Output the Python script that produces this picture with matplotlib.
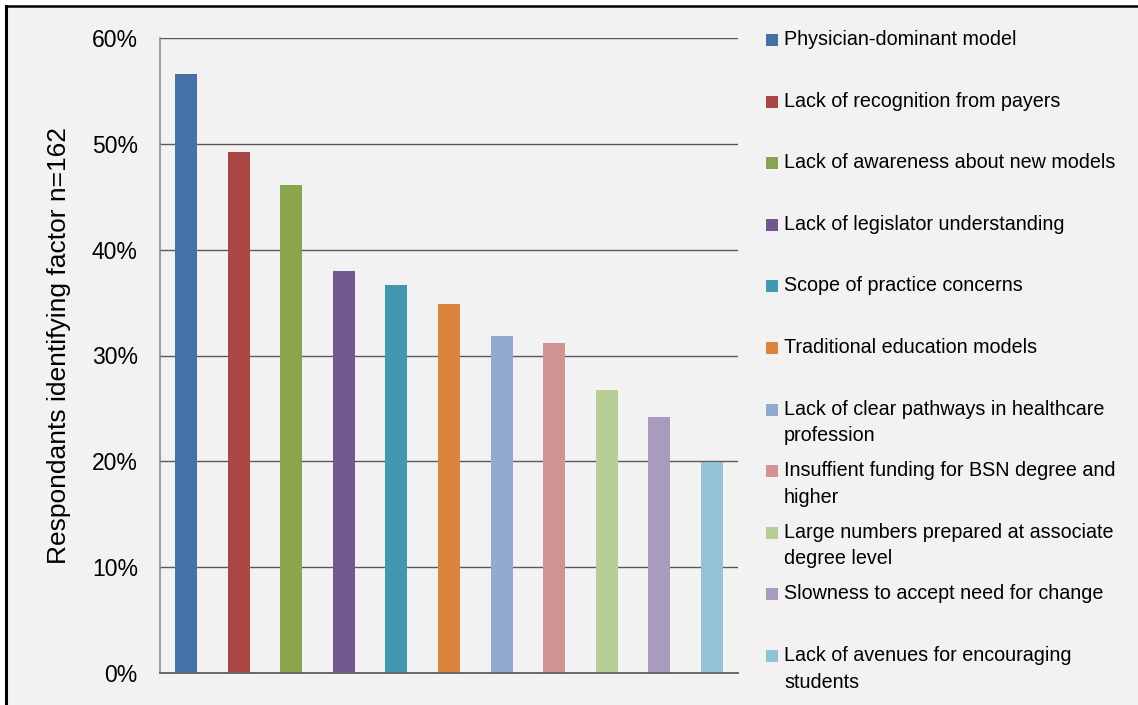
import matplotlib
matplotlib.use('Agg')
import matplotlib.pyplot as plt
from matplotlib.patches import Rectangle
from matplotlib.lines import Line2D
from matplotlib.ticker import PercentFormatter

# Datos
factores = [
    'Physician-dominant model',
    'Lack of recognition from payers',
    'Lack of awareness about new models',
    'Lack of legislator understanding',
    'Scope of practice concerns',
    'Traditional education models',
    'Lack of clear pathways in healthcare\nprofession',
    'Insuffient funding for BSN degree and\nhigher',
    'Large numbers prepared at associate\ndegree level',
    'Slowness to accept need for change',
    'Lack of avenues for encouraging\nstudents',
]
porcentajes = [56.6, 49.2, 46.1, 38.0, 36.7, 34.9, 31.8, 31.2, 26.7, 24.2, 19.9]
colores = ['#4572A7', '#AA4643', '#89A54E', '#71588F', '#4198AF', '#DB843D',
           '#93A9CF', '#D19392', '#B9CD96', '#A99BBD', '#92C3D4']
marcas_y = [0, 10, 20, 30, 40, 50, 60]

plt.rcParams['font.family'] = ['Liberation Sans', 'DejaVu Sans']

W, H = 1138, 705
fig = plt.figure(figsize=(W / 100, H / 100), dpi=100, facecolor='white')

# Fondo gris y borde superior/izquierdo
fig.patches.append(Rectangle((7 / W, 0), 1, 1 - 7 / H, transform=fig.transFigure,
                             facecolor='#f2f2f2', edgecolor='none', zorder=-5))
fig.add_artist(Line2D([6 / W, 6 / W], [0, 1 - 5.5 / H], transform=fig.transFigure,
                      color='black', lw=2.2))
fig.add_artist(Line2D([6 / W, 1], [1 - 5.5 / H, 1 - 5.5 / H], transform=fig.transFigure,
                      color='black', lw=1.8))

ax = fig.add_axes([160 / W, 32 / H, 578 / W, 635 / H])
ax.set_facecolor('none')

x = range(len(factores))
ax.bar(x, porcentajes, width=0.42, color=colores, zorder=3)

ax.set_xlim(-0.5, len(factores) - 0.5)
ax.set_ylim(0, 60)
ax.set_yticks(marcas_y)
ax.yaxis.set_major_formatter(PercentFormatter(decimals=0))
ax.set_xticks([])
ax.tick_params(axis='y', length=0, pad=16, labelsize=16.5)
ax.yaxis.grid(True, color='#595959', lw=1.0, zorder=1)
ax.set_axisbelow(True)

for s in ['top', 'right']:
    ax.spines[s].set_visible(False)
ax.spines['left'].set_color('#8a8a8a')
ax.spines['left'].set_linewidth(1.2)
ax.spines['bottom'].set_color('#6a6a6a')
ax.spines['bottom'].set_linewidth(1.4)
ax.spines['bottom'].set_zorder(4)

ax.set_ylabel('Respondants identifying factor n=162', fontsize=19, labelpad=15)
ax.yaxis.label.set_y(0.516)

# Leyenda dibujada a mano con espaciado uniforme (como Excel)
y0, paso = 40, 61.6
for i, (txt, c) in enumerate(zip(factores, colores)):
    yc = y0 + i * paso
    fig.patches.append(Rectangle((766 / W, 1 - (yc + 6) / H), 12 / W, 12 / H,
                                 transform=fig.transFigure, facecolor=c,
                                 edgecolor='none'))
    fig.text(784 / W, 1 - (yc - 10) / H, txt, fontsize=14.2, va='top', ha='left',
             linespacing=1.5, color='black')

fig.savefig('out.png', dpi=100, facecolor=fig.get_facecolor())
